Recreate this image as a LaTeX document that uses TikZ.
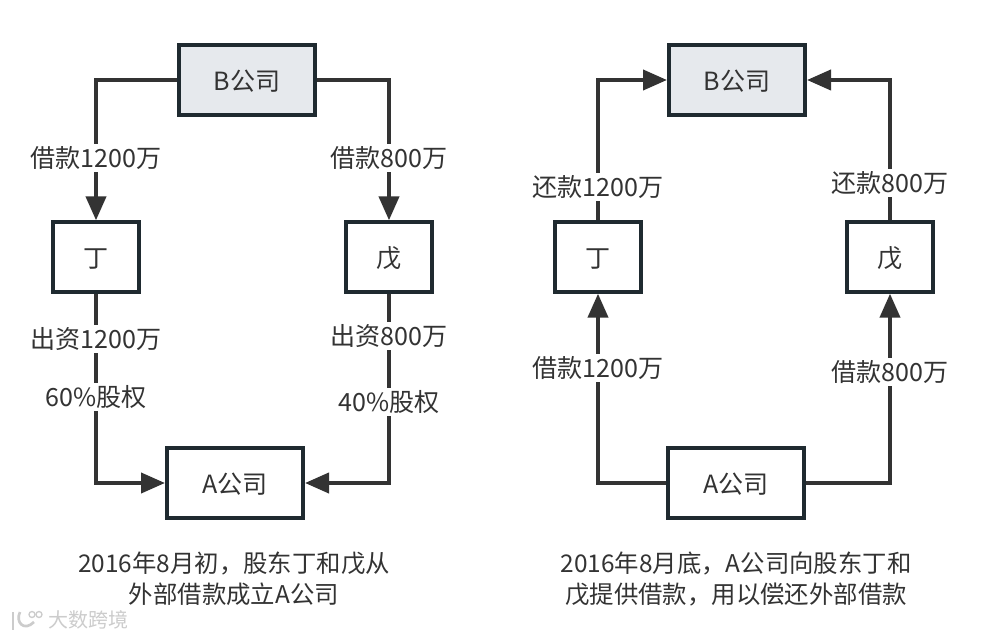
\documentclass[tikz,border=0pt]{standalone}
\usepackage{fontspec}
\setmainfont{Noto Sans CJK SC}
\usetikzlibrary{arrows.meta,positioning,calc}
\definecolor{ink}{HTML}{333333}
\definecolor{edgeink}{HTML}{1F2A30}
\definecolor{corp}{HTML}{E6E9ED}
\tikzset{co/.style={draw=edgeink,line width=3pt,fill=corp,minimum width=102pt,minimum height=52pt,inner sep=0pt,text height=16pt,text depth=0pt},
 ca/.style={draw=edgeink,line width=3pt,fill=white,minimum width=102pt,minimum height=52pt,inner sep=0pt,text height=16pt,text depth=0pt},
 p/.style={draw=edgeink,line width=3pt,fill=white,minimum width=65pt,minimum height=52pt,inner sep=0pt,text height=16pt,text depth=0pt},
 flow/.style={-{Triangle[length=18pt,width=15pt]},ink,line width=3pt},
 lab/.style={fill=white,inner sep=1.5pt,text=ink},
 txt/.style={align=center,text=ink,font=\fontsize{18.3}{23.5}\selectfont}}

\begin{document}
\begin{tikzpicture}[x=.75pt,y=-.75pt,font=\fontsize{18.8}{24}\selectfont,text=ink]
\useasboundingbox[fill=white](0,0)rectangle(982,638);
% left
\node[co](bL) at(247,80){B公司};
\node[p](dL) at(96,257){丁};
\node[p](wL) at(389,257){戊};
\node[ca](aL) at(235,483){A公司};
\draw[flow](bL.west)-|(dL.north);
\draw[flow](bL.east)-|(wL.north);
\draw[flow](dL.south)|-(aL.west);
\draw[flow](wL.south)|-(aL.east);
\node[lab](l1) at(96,158){借款1200万};
\node[lab](l2) at(389,158){借款800万};
\node[lab](l3) at(96,339){出资1200万};
\node[lab](l4) at(96,397){60\%股权};
\node[lab](l5) at(389,336){出资800万};
\node[lab](l6) at(389,402){40\%股权};
% right
\node[co](bR) at(737,80){B公司};
\node[p](dR) at(598,257){丁};
\node[p](wR) at(890,257){戊};
\node[ca](aR) at(736,483){A公司};
\draw[flow](dR.north)|-(bR.west);
\draw[flow](wR.north)|-(bR.east);
\draw[flow](aR.west)-|(dR.south);
\draw[flow](aR.east)-|(wR.south);
\node[lab](r1) at(598,187){还款1200万};
\node[lab](r2) at(890,183){还款800万};
\node[lab](r3) at(598,368){借款1200万};
\node[lab](r4) at(890,372){借款800万};
% captions
\node[txt](capL) at(234,579){2016年8月初，股东丁和戊从\\外部借款成立A公司};
\node[txt](capR) at(736,579){2016年8月底，A公司向股东丁和\\戊提供借款，用以偿还外部借款};
% watermark
\node[text=black!20,font=\fontsize{15}{18}\selectfont](mark) at(88,620){大数跨境};
\draw[black!20,line width=2pt](13,612)--(13,630);
\draw[black!20,line width=2pt](20,612)..controls(15,622)and(24,632)..(34,622);
\draw[black!20,line width=1pt](32,614.5)circle(3);
\draw[black!20,line width=1pt](39,614.5)circle(3);
\end{tikzpicture}
\end{document}
